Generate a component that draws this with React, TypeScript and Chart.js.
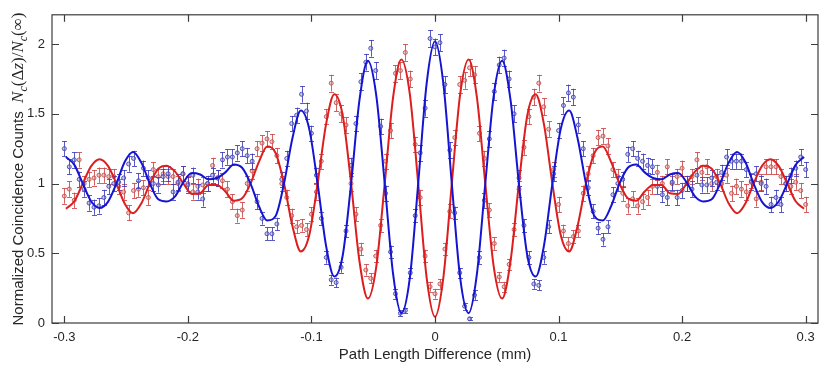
import React, { useEffect, useRef } from 'react';
import { Chart, registerables } from 'chart.js';

Chart.register(...registerables);

const X_TICKS = [-0.3, -0.2, -0.1, 0, 0.1, 0.2, 0.3];
const Y_TICKS = [0, 0.5, 1, 1.5, 2];

// fitted curves (sampled every 1/8 fringe period)
const CURVE_X = [
  -0.2987, -0.2919, -0.2851, -0.2783, -0.2715, -0.2647, -0.2579, -0.2511, -0.2444, -0.2376,
  -0.2308, -0.224, -0.2172, -0.2104, -0.2036, -0.1968, -0.1901, -0.1833, -0.1765, -0.1697,
  -0.1629, -0.1561, -0.1493, -0.1425, -0.1358, -0.129, -0.1222, -0.1154, -0.1086, -0.1018,
  -0.095, -0.0882, -0.0815, -0.0747, -0.0679, -0.0611, -0.0543, -0.0475, -0.0407, -0.0339,
  -0.0272, -0.0204, -0.0136, -0.0068, 0, 0.0068, 0.0136, 0.0204, 0.0272, 0.0339,
  0.0407, 0.0475, 0.0543, 0.0611, 0.0679, 0.0747, 0.0815, 0.0882, 0.095, 0.1018,
  0.1086, 0.1154, 0.1222, 0.129, 0.1358, 0.1425, 0.1493, 0.1561, 0.1629, 0.1697,
  0.1765, 0.1833, 0.1901, 0.1968, 0.2036, 0.2104, 0.2172, 0.224, 0.2308, 0.2376,
  0.2444, 0.2511, 0.2579, 0.2647, 0.2715, 0.2783, 0.2851, 0.2919, 0.2987,
];
const FIT_BLUE = [
  1.19, 1.134, 1.0, 0.873, 0.825, 0.869, 1.0, 1.156, 1.227, 1.148,
  1.0, 0.887, 0.872, 0.908, 1.01, 1.075, 1.065, 1.03, 1.04, 1.08,
  1.137, 1.113, 1.0, 0.837, 0.735, 0.767, 1.0, 1.325, 1.523, 1.392,
  1.0, 0.555, 0.333, 0.484, 1.0, 1.601, 1.88, 1.629, 1.0, 0.35,
  0.07, 0.321, 1.0, 1.714, 2.02, 1.714, 1.0, 0.321, 0.07, 0.35,
  1.0, 1.629, 1.88, 1.601, 1.0, 0.484, 0.333, 0.555, 1.0, 1.392,
  1.523, 1.325, 1.0, 0.767, 0.735, 0.837, 1.0, 1.113, 1.137, 1.08,
  1.04, 1.03, 1.065, 1.075, 1.01, 0.908, 0.872, 0.887, 1.0, 1.148,
  1.227, 1.156, 1.0, 0.869, 0.825, 0.873, 1.0, 1.134, 1.19,
];
const FIT_RED = [
  0.82, 0.873, 1.0, 1.125, 1.175, 1.127, 1.0, 0.855, 0.787, 0.859,
  1.0, 1.106, 1.128, 1.085, 1.0, 0.925, 0.93, 0.99, 0.99, 0.943,
  0.877, 0.894, 1.0, 1.156, 1.265, 1.219, 1.0, 0.696, 0.513, 0.629,
  1.0, 1.424, 1.64, 1.488, 1.0, 0.441, 0.175, 0.406, 1.0, 1.619,
  1.89, 1.643, 1.0, 0.328, 0.045, 0.328, 1.0, 1.643, 1.89, 1.619,
  1.0, 0.406, 0.175, 0.441, 1.0, 1.488, 1.64, 1.424, 1.0, 0.629,
  0.513, 0.696, 1.0, 1.219, 1.265, 1.156, 1.0, 0.894, 0.877, 0.943,
  0.99, 0.99, 0.93, 0.925, 1.0, 1.085, 1.128, 1.106, 1.0, 0.859,
  0.787, 0.855, 1.0, 1.127, 1.175, 1.125, 1.0, 0.873, 0.82,
];

// measured points (step 0.004 mm)
const DATA_X = [
  -0.3, -0.296, -0.292, -0.288, -0.284, -0.28, -0.276, -0.272, -0.268, -0.264,
  -0.26, -0.256, -0.252, -0.248, -0.244, -0.24, -0.236, -0.232, -0.228, -0.224,
  -0.22, -0.216, -0.212, -0.208, -0.204, -0.2, -0.196, -0.192, -0.188, -0.184,
  -0.18, -0.176, -0.172, -0.168, -0.164, -0.16, -0.156, -0.152, -0.148, -0.144,
  -0.14, -0.136, -0.132, -0.128, -0.124, -0.12, -0.116, -0.112, -0.108, -0.104,
  -0.1, -0.096, -0.092, -0.088, -0.084, -0.08, -0.076, -0.072, -0.068, -0.064,
  -0.06, -0.056, -0.052, -0.048, -0.044, -0.04, -0.036, -0.032, -0.028, -0.024,
  -0.02, -0.016, -0.012, -0.008, -0.004, 0, 0.004, 0.008, 0.012, 0.016,
  0.02, 0.024, 0.028, 0.032, 0.036, 0.04, 0.044, 0.048, 0.052, 0.056,
  0.06, 0.064, 0.068, 0.072, 0.076, 0.08, 0.084, 0.088, 0.092, 0.096,
  0.1, 0.104, 0.108, 0.112, 0.116, 0.12, 0.124, 0.128, 0.132, 0.136,
  0.14, 0.144, 0.148, 0.152, 0.156, 0.16, 0.164, 0.168, 0.172, 0.176,
  0.18, 0.184, 0.188, 0.192, 0.196, 0.2, 0.204, 0.208, 0.212, 0.216,
  0.22, 0.224, 0.228, 0.232, 0.236, 0.24, 0.244, 0.248, 0.252, 0.256,
  0.26, 0.264, 0.268, 0.272, 0.276, 0.28, 0.284, 0.288, 0.292, 0.296,
  0.3,
];
const DATA_BLUE = [
  1.25, 1.12, 1.17, 1.03, 0.96, 0.86, 0.83, 0.84, 0.9, 0.98,
  1.0, 1.01, 1.04, 1.14, 1.18, 1.02, 1.11, 1.04, 1.0, 0.99,
  1.05, 1.07, 0.94, 1.01, 1.07, 0.99, 1.06, 0.94, 0.89, 1.0,
  1.06, 1.04, 1.17, 1.19, 1.19, 1.22, 1.25, 1.2, 1.16, 0.87,
  0.75, 0.64, 0.64, 0.71, 1.03, 1.18, 1.43, 1.49, 1.64, 1.52,
  1.36, 1.06, 0.75, 0.47, 0.31, 0.29, 0.4, 0.66, 1.13, 1.43,
  1.73, 1.87, 1.97, 1.81, 1.41, 0.93, 0.51, 0.21, 0.07, 0.09,
  0.36, 0.77, 1.22, 1.54, 2.04, 1.98, 2.01, 1.71, 1.24, 0.79,
  0.36, 0.12, 0.03, 0.2, 0.47, 0.88, 1.32, 1.66, 1.85, 1.9,
  1.75, 1.5, 1.04, 0.7, 0.47, 0.28, 0.27, 0.47, 0.69, 1.07,
  1.38, 1.56, 1.65, 1.62, 1.42, 1.25, 0.97, 0.8, 0.68, 0.6,
  0.69, 0.92, 1.0, 1.03, 1.21, 1.25, 1.18, 1.16, 1.13, 1.12,
  0.98, 0.92, 0.9, 1.01, 0.9, 0.95, 1.0, 0.96, 1.06, 0.99,
  0.99, 1.04, 1.01, 1.08, 1.19, 1.16, 1.16, 1.16, 1.1, 1.01,
  1.07, 1.0, 0.98, 0.85, 0.9, 0.85, 1.0, 1.06, 1.11, 1.19,
  1.1,
];
const ERR_BLUE = [
  0.055, 0.055, 0.055, 0.055, 0.055, 0.055, 0.055, 0.055, 0.055, 0.055,
  0.055, 0.055, 0.055, 0.055, 0.055, 0.055, 0.055, 0.055, 0.055, 0.055,
  0.055, 0.055, 0.055, 0.055, 0.055, 0.055, 0.055, 0.055, 0.055, 0.055,
  0.055, 0.055, 0.055, 0.055, 0.055, 0.055, 0.055, 0.055, 0.055, 0.055,
  0.045, 0.045, 0.045, 0.045, 0.055, 0.055, 0.055, 0.055, 0.06, 0.06,
  0.055, 0.055, 0.045, 0.045, 0.035, 0.035, 0.04, 0.045, 0.055, 0.055,
  0.06, 0.06, 0.06, 0.06, 0.055, 0.055, 0.045, 0.035, 0.02, 0.02,
  0.035, 0.045, 0.055, 0.06, 0.06, 0.06, 0.06, 0.06, 0.055, 0.045,
  0.035, 0.025, 0.01, 0.035, 0.045, 0.055, 0.055, 0.06, 0.06, 0.06,
  0.06, 0.06, 0.055, 0.045, 0.045, 0.035, 0.035, 0.045, 0.045, 0.055,
  0.055, 0.06, 0.06, 0.06, 0.055, 0.055, 0.055, 0.05, 0.045, 0.045,
  0.045, 0.055, 0.055, 0.055, 0.055, 0.055, 0.055, 0.055, 0.055, 0.055,
  0.055, 0.055, 0.055, 0.055, 0.055, 0.055, 0.055, 0.055, 0.055, 0.055,
  0.055, 0.055, 0.055, 0.055, 0.055, 0.055, 0.055, 0.055, 0.055, 0.055,
  0.055, 0.055, 0.055, 0.055, 0.055, 0.055, 0.055, 0.055, 0.055, 0.055,
  0.055,
];
const DATA_RED = [
  0.91, 0.96, 0.88, 1.17, 1.0, 1.03, 1.04, 1.06, 1.06, 1.05,
  1.05, 0.98, 0.94, 0.79, 0.95, 0.96, 0.97, 0.9, 1.1, 1.05,
  1.07, 1.05, 1.05, 1.0, 1.07, 1.0, 0.94, 0.98, 0.99, 1.0,
  1.13, 1.04, 1.02, 0.96, 0.87, 0.77, 0.81, 1.0, 1.09, 1.25,
  1.29, 1.32, 1.3, 1.2, 1.0, 0.9, 0.77, 0.69, 0.7, 0.67,
  0.78, 0.94, 1.16, 1.48, 1.72, 1.58, 1.5, 1.42, 1.0, 0.78,
  0.53, 0.38, 0.32, 0.48, 0.7, 1.16, 1.38, 1.79, 1.81, 1.94,
  1.75, 1.28, 0.9, 0.48, 0.26, 0.21, 0.28, 0.53, 0.8, 1.33,
  1.71, 1.74, 1.83, 1.78, 1.36, 1.18, 0.81, 0.57, 0.33, 0.26,
  0.42, 0.67, 0.96, 1.26, 1.48, 1.62, 1.72, 1.55, 1.39, 1.1,
  0.85, 0.66, 0.57, 0.62, 0.66, 0.93, 1.07, 1.2, 1.33, 1.34,
  1.27, 1.1, 1.05, 0.93, 0.84, 0.89, 0.84, 0.87, 0.9, 0.98,
  1.08, 1.0, 1.12, 1.0, 1.05, 1.11, 1.0, 1.05, 1.17, 1.08,
  1.12, 1.0, 1.05, 1.0, 1.06, 0.93, 0.98, 0.96, 0.94, 1.02,
  0.89, 1.01, 1.12, 1.12, 1.12, 1.05, 1.0, 0.98, 1.01, 0.95,
  0.85,
];
const ERR_RED = [
  0.055, 0.055, 0.055, 0.055, 0.055, 0.055, 0.055, 0.055, 0.055, 0.055,
  0.055, 0.055, 0.055, 0.055, 0.055, 0.055, 0.055, 0.055, 0.055, 0.055,
  0.055, 0.055, 0.055, 0.055, 0.055, 0.055, 0.055, 0.055, 0.055, 0.055,
  0.055, 0.055, 0.055, 0.055, 0.055, 0.05, 0.055, 0.055, 0.055, 0.055,
  0.055, 0.055, 0.055, 0.055, 0.055, 0.055, 0.05, 0.045, 0.045, 0.045,
  0.05, 0.055, 0.055, 0.055, 0.06, 0.06, 0.06, 0.055, 0.055, 0.05,
  0.045, 0.04, 0.035, 0.045, 0.045, 0.055, 0.055, 0.06, 0.06, 0.06,
  0.06, 0.055, 0.055, 0.045, 0.035, 0.035, 0.035, 0.045, 0.05, 0.055,
  0.06, 0.06, 0.06, 0.06, 0.055, 0.055, 0.05, 0.045, 0.035, 0.035,
  0.04, 0.045, 0.055, 0.055, 0.055, 0.06, 0.06, 0.06, 0.055, 0.055,
  0.055, 0.045, 0.045, 0.045, 0.045, 0.055, 0.055, 0.055, 0.055, 0.055,
  0.055, 0.055, 0.055, 0.055, 0.055, 0.055, 0.055, 0.055, 0.055, 0.055,
  0.055, 0.055, 0.055, 0.055, 0.055, 0.055, 0.055, 0.055, 0.055, 0.055,
  0.055, 0.055, 0.055, 0.055, 0.055, 0.055, 0.055, 0.055, 0.055, 0.055,
  0.055, 0.055, 0.055, 0.055, 0.055, 0.055, 0.055, 0.055, 0.055, 0.055,
  0.055,
];

const TEXT = '#262626';
const FRAME = '#3c3c3c';
const SANS = '"Liberation Sans", Arial, Helvetica, sans-serif';
const SERIF = '"Liberation Serif", "Times New Roman", serif';

const errorBars = {
  id: 'errorBars',
  beforeDatasetDraw(chart: any, args: any) {
    const ds = chart.data.datasets[args.index];
    if (!ds.errors) return;
    const { ctx } = chart;
    const xs = chart.scales.x;
    const ys = chart.scales.y;
    ctx.save();
    ctx.strokeStyle = ds.errColor;
    ctx.lineWidth = 1;
    ds.data.forEach((p: any, i: number) => {
      const e = ds.errors[i];
      const px = Math.round(xs.getPixelForValue(p.x)) + 0.5;
      const y1 = ys.getPixelForValue(p.y - e);
      const y2 = ys.getPixelForValue(p.y + e);
      ctx.beginPath();
      ctx.moveTo(px, y1);
      ctx.lineTo(px, y2);
      ctx.moveTo(px - 2.5, Math.round(y1) + 0.5);
      ctx.lineTo(px + 2.5, Math.round(y1) + 0.5);
      ctx.moveTo(px - 2.5, Math.round(y2) + 0.5);
      ctx.lineTo(px + 2.5, Math.round(y2) + 0.5);
      ctx.stroke();
    });
    ctx.restore();
  },
};

const frame = {
  id: 'frame',
  afterDraw(chart: any) {
    const { ctx, chartArea: a } = chart;
    const xs = chart.scales.x;
    const ys = chart.scales.y;
    ctx.save();
    ctx.strokeStyle = FRAME;
    ctx.lineWidth = 1.2;
    ctx.strokeRect(a.left, a.top, a.right - a.left, a.bottom - a.top);
    const tl = 7;
    ctx.beginPath();
    X_TICKS.forEach((v) => {
      const px = Math.round(xs.getPixelForValue(v)) + 0.5;
      ctx.moveTo(px, a.bottom);
      ctx.lineTo(px, a.bottom - tl);
      ctx.moveTo(px, a.top);
      ctx.lineTo(px, a.top + tl);
    });
    Y_TICKS.forEach((v) => {
      const py = Math.round(ys.getPixelForValue(v)) + 0.5;
      ctx.moveTo(a.left, py);
      ctx.lineTo(a.left + tl, py);
      ctx.moveTo(a.right, py);
      ctx.lineTo(a.right - tl, py);
    });
    ctx.stroke();

    // x title
    ctx.fillStyle = TEXT;
    ctx.font = '15px ' + SANS;
    ctx.textAlign = 'center';
    ctx.textBaseline = 'middle';
    ctx.fillText('Path Length Difference (mm)', (a.left + a.right) / 2, 355);

    // y title with math
    const segs = [
      { t: 'Normalized Coincidence Counts  ', f: '15px ' + SANS, dy: 0 },
      { t: 'N', f: 'italic 17px ' + SERIF, dy: 0 },
      { t: 'c', f: 'italic 12px ' + SERIF, dy: 3.5 },
      { t: '(', f: '17px ' + SERIF, dy: 0 },
      { t: 'Δ', f: '17px ' + SERIF, dy: 0 },
      { t: 'z', f: 'italic 17px ' + SERIF, dy: 0 },
      { t: ')/', f: '17px ' + SERIF, dy: 0 },
      { t: 'N', f: 'italic 17px ' + SERIF, dy: 0 },
      { t: 'c', f: 'italic 12px ' + SERIF, dy: 3.5 },
      { t: '(∞)', f: '17px ' + SERIF, dy: 0 },
    ];
    let total = 0;
    const widths = segs.map((s) => {
      ctx.font = s.f;
      const w = ctx.measureText(s.t).width;
      total += w;
      return w;
    });
    ctx.translate(23, 169);
    ctx.rotate(-Math.PI / 2);
    ctx.textAlign = 'left';
    ctx.textBaseline = 'alphabetic';
    let cx = -total / 2;
    segs.forEach((s, i) => {
      ctx.font = s.f;
      ctx.fillText(s.t, cx, s.dy);
      cx += widths[i];
    });
    ctx.restore();
  },
};

export default function App() {
  const ref = useRef<HTMLCanvasElement>(null);
  useEffect(() => {
    if (!ref.current) return;
    Chart.defaults.font.family = SANS;
    Chart.defaults.color = TEXT;
    const pts = (ys: number[]) => DATA_X.map((x, i) => ({ x, y: ys[i] }));
    const curve = (ys: number[]) => CURVE_X.map((x, i) => ({ x, y: ys[i] }));
    const chart = new Chart(ref.current, {
      type: 'scatter',
      data: {
        datasets: [
          {
            label: 'fit red',
            data: curve(FIT_RED),
            showLine: true,
            borderColor: '#dc1e1e',
            borderWidth: 2,
            pointRadius: 0,
            cubicInterpolationMode: 'monotone',
            order: 1,
          } as any,
          {
            label: 'fit blue',
            data: curve(FIT_BLUE),
            showLine: true,
            borderColor: '#1414d2',
            borderWidth: 2,
            pointRadius: 0,
            cubicInterpolationMode: 'monotone',
            order: 0,
          } as any,
          {
            label: 'data red',
            data: pts(DATA_RED),
            errors: ERR_RED,
            errColor: 'rgba(205,70,70,0.85)',
            pointRadius: 2,
            pointBorderWidth: 1,
            pointBorderColor: 'rgba(195,80,80,0.9)',
            pointBackgroundColor: 'rgba(220,150,150,0.5)',
            order: 3,
          } as any,
          {
            label: 'data blue',
            data: pts(DATA_BLUE),
            errors: ERR_BLUE,
            errColor: 'rgba(60,60,190,0.85)',
            pointRadius: 2,
            pointBorderWidth: 1,
            pointBorderColor: 'rgba(70,70,180,0.9)',
            pointBackgroundColor: 'rgba(150,150,210,0.5)',
            order: 2,
          } as any,
        ],
      },
      options: {
        animation: false,
        responsive: false,
        devicePixelRatio: 1,
        layout: { padding: { left: 0, right: 13, top: 11, bottom: 0 } },
        plugins: { legend: { display: false }, tooltip: { enabled: false } },
        scales: {
          x: {
            type: 'linear',
            min: -0.31,
            max: 0.31,
            grid: { display: false, drawTicks: false },
            border: { display: false },
            afterBuildTicks: (s: any) => {
              s.ticks = X_TICKS.map((v) => ({ value: v }));
            },
            afterFit: (s: any) => {
              s.height = 48;
            },
            ticks: {
              padding: 7,
              font: { size: 13 },
              color: TEXT,
              maxRotation: 0,
              callback: (v: any) => String(Math.round(Number(v) * 10) / 10),
            },
          },
          y: {
            type: 'linear',
            min: 0,
            max: 2.21,
            grid: { display: false, drawTicks: false },
            border: { display: false },
            afterBuildTicks: (s: any) => {
              s.ticks = Y_TICKS.map((v) => ({ value: v }));
            },
            afterFit: (s: any) => {
              s.width = 52;
            },
            ticks: {
              padding: 7,
              font: { size: 13 },
              color: TEXT,
              callback: (v: any) => String(Math.round(Number(v) * 10) / 10),
            },
          },
        },
      },
      plugins: [errorBars, frame],
    });
    return () => chart.destroy();
  }, []);
  return (
    <div style={{ position: 'fixed', left: 0, top: 0, width: 831, height: 371, background: '#fff' }}>
      <canvas ref={ref} width={831} height={371} style={{ width: 831, height: 371, display: 'block' }} />
    </div>
  );
}
